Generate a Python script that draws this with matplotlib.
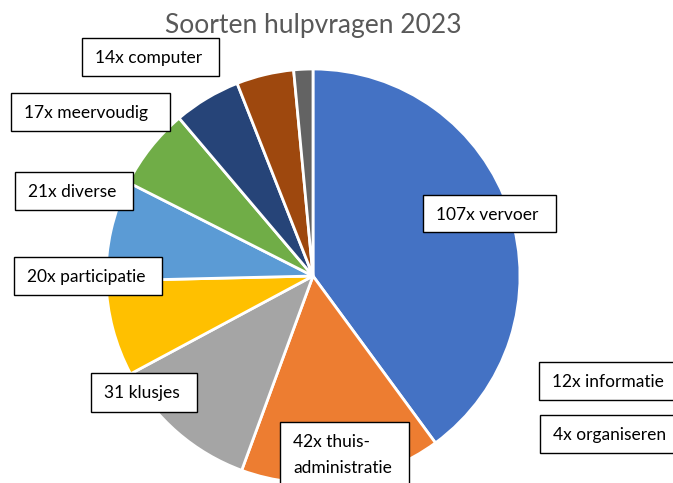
import matplotlib.pyplot as plt
from matplotlib.patches import Rectangle

# Hulpvragen 2023, kloksgewijs vanaf 12 uur
categories = ['vervoer', 'thuis-administratie', 'klusjes', 'participatie', 'diverse',
              'meervoudig', 'computer', 'informatie', 'organiseren']
counts = [107, 42, 31, 20, 21, 17, 14, 12, 4]
labels = ['107x vervoer', '42x thuis-\nadministratie', '31 klusjes', '20x participatie',
          '21x diverse', '17x meervoudig', '14x computer', '12x informatie', '4x organiseren']
colors = ['#4472C4', '#ED7D31', '#A5A5A5', '#FFC000', '#5B9BD5',
          '#70AD47', '#264478', '#9E480E', '#636363']

# label boxes: left, top, width, height in pixels from the top-left of the image
boxes = [(423, 195, 133, 37), (280, 422, 129, 80), (91, 373, 106, 39), (14, 257, 148, 38),
         (15, 172, 118, 38), (11, 93, 159, 38), (82, 38, 137, 38),
         (539, 362, 150, 38), (540, 415, 150, 38)]

W, H = 673, 483
fig = plt.figure(figsize=(W / 100, H / 100), dpi=100)


def fx(px):
    return px / W


def fy(py):
    return 1 - py / H


cx, cy, r = 313, 276, 207
ax = fig.add_axes([fx(cx - r), fy(cy + r), 2 * r / W, 2 * r / H])
ax.pie(counts, colors=colors, startangle=90, counterclock=False,
       wedgeprops=dict(edgecolor='white', linewidth=2))
ax.set_xlim(-1, 1)
ax.set_ylim(-1, 1)
ax.set_aspect('equal')

fig.text(fx(313), fy(33), 'Soorten hulpvragen 2023', ha='center', va='baseline',
         fontsize=19, color='#595959', family='Lato')

for lab, (bx, by, bw, bh) in zip(labels, boxes):
    fig.patches.append(Rectangle((fx(bx), fy(by + bh)), bw / W, bh / H,
                                 transform=fig.transFigure, fc='white', ec='black',
                                 lw=1, zorder=3))
    for i, line in enumerate(lab.split('\n')):
        fig.text(fx(bx + 13), fy(by + 25 + i * 26), line, ha='left', va='baseline',
                 fontsize=12.5, family='Lato', color='black', zorder=4)

fig.savefig('out.png', dpi=100)
